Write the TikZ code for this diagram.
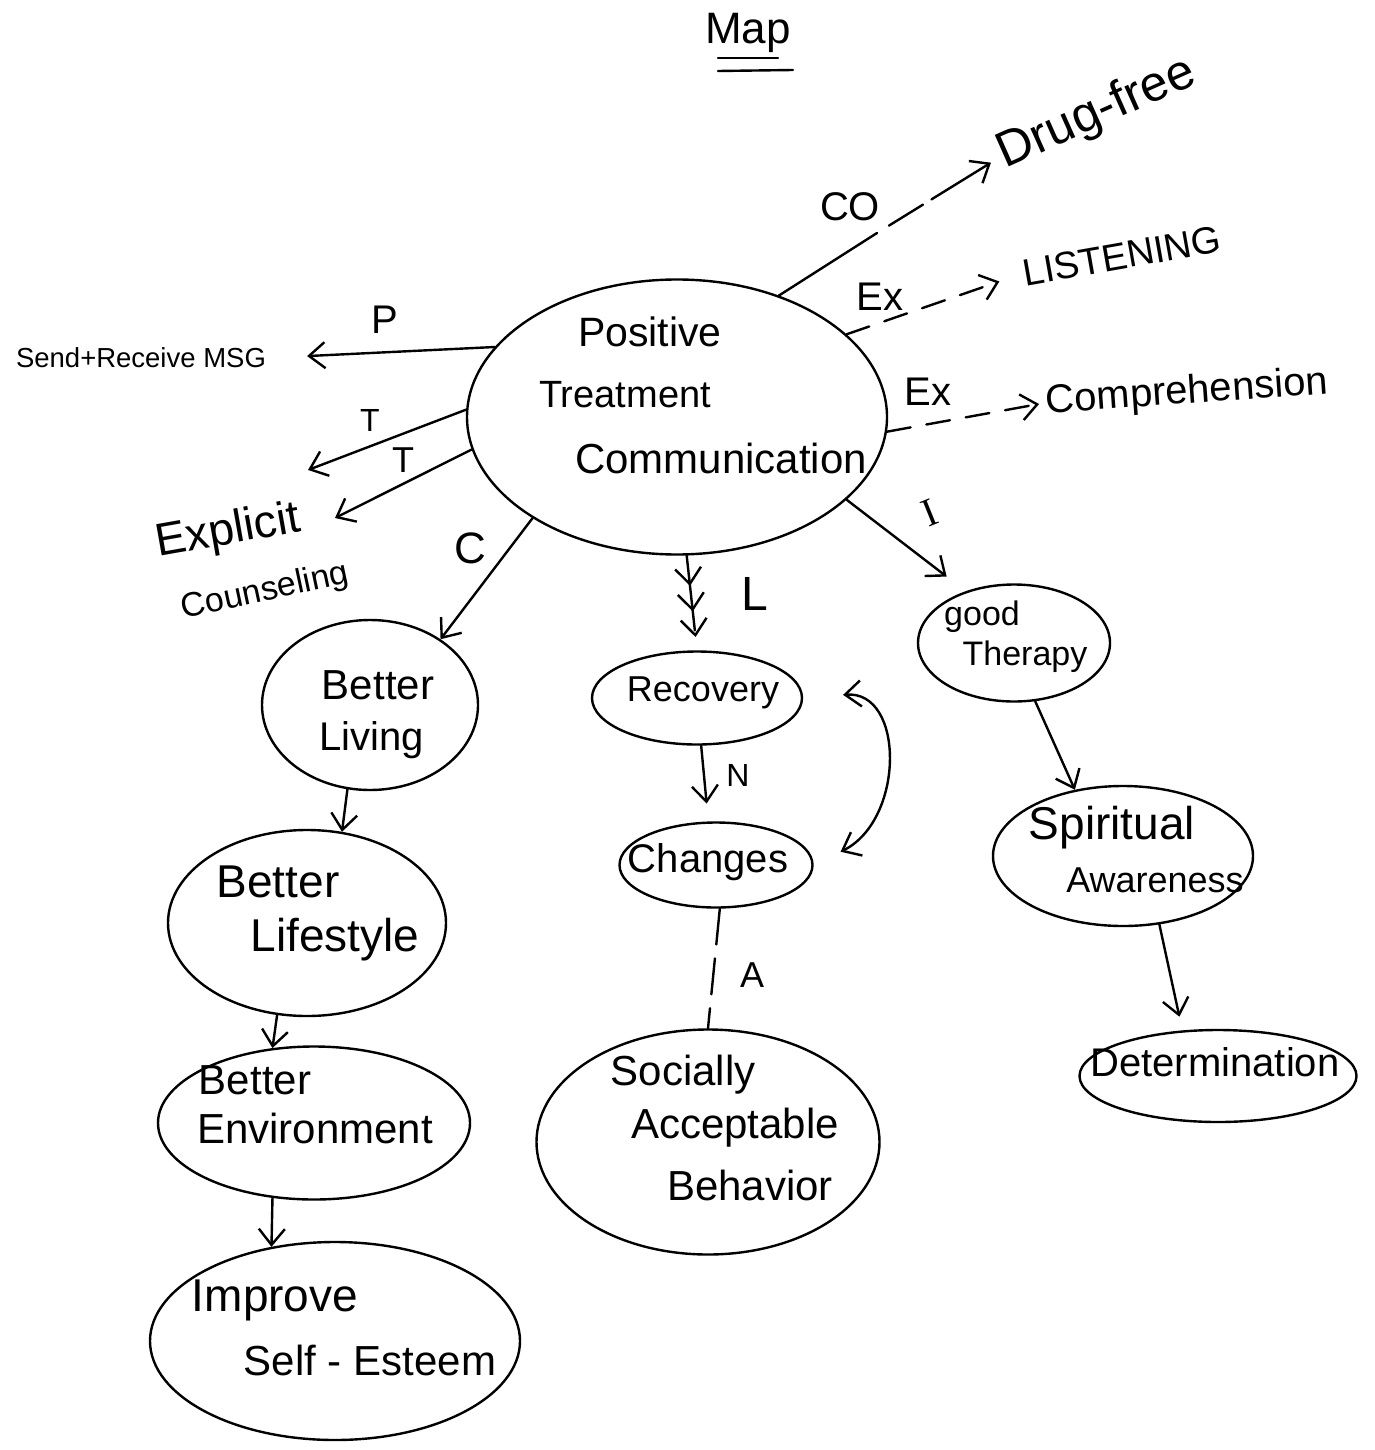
\documentclass[tikz,border=0pt]{standalone}
\usepackage{fontspec}
\setmainfont{Liberation Sans}
\newfontfamily\serifletter{Liberation Serif}
\usetikzlibrary{arrows.meta,shapes.geometric,decorations.markings}

\begin{document}
\begin{tikzpicture}[x=0.5pt,y=-0.5pt,
  line width=1.2pt, line cap=round, line join=round,
  barb/.tip={Straight Barb[length=8pt,width=13pt]},
  >=barb,
  blob/.style={draw, ellipse, inner sep=0pt},
  txt/.style={inner sep=0pt, font=\fontsize{#1}{#1}\selectfont},
  txt/.default=20,
  exdash/.style={dash pattern=on 12pt off 8pt},
  feather/.style={decoration={markings,
      mark=at position 0.32 with {\arrow{barb}},
      mark=at position 0.59 with {\arrow{barb}},
      mark=at position 0.86 with {\arrow{barb}}},
    postaction=decorate}]

% page
\fill[white] (0,0) rectangle (1375,1450);
\useasboundingbox (0,0) rectangle (1375,1450);

% title
\node[txt=22] (title) at (748,33) {Map};
\draw (718,58) -- (778,58);
\draw (718,71) -- (793,70);

% bubbles
\node[blob, minimum width=210pt, minimum height=137.5pt] (ptc)   at (677,417)  {};
\node[blob, minimum width=108pt, minimum height=85pt]    (bliv)  at (370,705)  {};
\node[blob, minimum width=139pt, minimum height=93pt]    (blife) at (307,923)  {};
\node[blob, minimum width=156pt, minimum height=76.5pt]  (benv)  at (314,1123) {};
\node[blob, minimum width=185pt, minimum height=99pt]    (imp)   at (335,1341) {};
\node[blob, minimum width=105pt, minimum height=46.5pt]  (rec)   at (697,698)  {};
\node[blob, minimum width=96.5pt, minimum height=42.5pt] (chg)   at (716,865)  {};
\node[blob, minimum width=171.5pt, minimum height=112.5pt] (sab) at (708,1142) {};
\node[blob, minimum width=96pt, minimum height=58.5pt]   (gt)    at (1014,643) {};
\node[blob, minimum width=130pt, minimum height=70pt]    (spir)  at (1123,856) {};
\node[blob, minimum width=138.5pt, minimum height=46pt]  (det)   at (1218,1076) {};

% bubble texts
\node[txt=20.5] (ptc1) at (650,332) {Positive};
\node[txt=19]   (ptc2) at (625,395) {Treatment};
\node[txt=21]   (ptc3) at (721,458) {Communication};
\node[txt=21] (bliv1) at (378,685) {Better};
\node[txt=20] (bliv2) at (372,740) {Living};
\node[txt=23] (blife1) at (278,882) {Better};
\node[txt=23] (blife2) at (335,940) {Lifestyle};
\node[txt=21] (benv1) at (255,1080) {Better};
\node[txt=21] (benv2) at (315,1128) {Environment};
\node[txt=23] (imp1) at (275,1300) {Improve};
\node[txt=21] (imp2) at (370,1360) {Self - Esteem};
\node[txt=18] (rec1) at (703,693) {Recovery};
\node[txt=20] (chg1) at (708,862) {Changes};
\node[txt=21] (sab1) at (683,1075) {Socially};
\node[txt=21] (sab2) at (735,1128) {Acceptable};
\node[txt=21] (sab3) at (750,1185) {Behavior};
\node[txt=17] (gt1) at (982,617) {good};
\node[txt=17] (gt2) at (1025,657) {Therapy};
\node[txt=23] (spir1) at (1112,828) {Spiritual};
\node[txt=18] (spir2) at (1155,880) {Awareness};
\node[txt=20] (det1) at (1215,1062) {Determination};

% free-standing concepts
\node[txt=13.75] (msg) at (141,358) {Send+Receive MSG};
\node[txt=23, rotate=10] (expl) at (228,532) {Explicit};
\node[txt=17, rotate=12] (couns) at (265,592) {Counseling};
\node[txt=25, rotate=24] (drug) at (1097,114) {Drug-free};
\node[txt=19, rotate=10] (listen) at (1122,256) {LISTENING};
\node[txt=20, rotate=4] (compr) at (1187,393) {Comprehension};

% link labels
\node[txt=20] (lco) at (850,207) {CO};
\node[txt=20] (lex1) at (880,297) {Ex};
\node[txt=20] (lex2) at (928,392) {Ex};
\node[txt=20] (lp) at (385,320) {P};
\node[txt=16] (lt1) at (370,420) {T};
\node[txt=18] (lt2) at (403,460) {T};
\node[txt=22] (lc) at (470,548) {C};
\node[txt=24] (ll) at (755,594) {L};
\node[txt=20, rotate=22, font=\fontsize{20}{20}\serifletter] (li) at (930,513) {I};
\node[txt=16] (ln) at (738,775) {N};
\node[txt=18] (la) at (752,975) {A};

% free ends
\coordinate (cobreak) at (877,233);
\coordinate (t1end) at (308,470);
\coordinate (t2end) at (335,518);

% connectors from the centre
\draw (ptc.50) -- (cobreak);
\draw[->, dash pattern=on 0pt off 7pt on 20pt off 5pt on 40pt, shorten >=5pt] (cobreak) -- (drug.west);
\draw[->, exdash, shorten >=12pt] (ptc.26) -- (listen.west);
\draw[->, exdash, shorten >=3pt] (ptc.-4) -- (compr.west);
\draw[->, shorten >=20pt] (ptc.159) -- (msg.east);
\draw[->] (ptc.178) -- (t1end);
\draw[->] (ptc.-171) -- (t2end);
\draw[->] (ptc.215) -- (bliv.43);
\draw[feather, shorten >=10pt] (ptc.274) -- (rec.north);
\draw[->, shorten >=12pt] (ptc.-26) -- (gt.133);

% left chain
\draw[->] (bliv.255) -- (blife.69);
\draw[->] (blife.252) -- (benv.119);
\draw[->] (benv.241) -- (imp.124);

% middle chain
\draw[->, shorten >=9pt] (rec.-85) -- (chg.100);
\draw[<->, shorten <=20pt, shorten >=15pt] (rec.east) .. controls (905,690) and (905,820) .. (chg.east);
\draw[dash pattern=on 18pt off 7pt] (chg.-85) -- (sab.north);

% right chain
\draw[->] (gt.-70) -- (spir.126);
\draw[->, shorten >=7pt] (spir.-62) -- (det.128);

\end{tikzpicture}
\end{document}
